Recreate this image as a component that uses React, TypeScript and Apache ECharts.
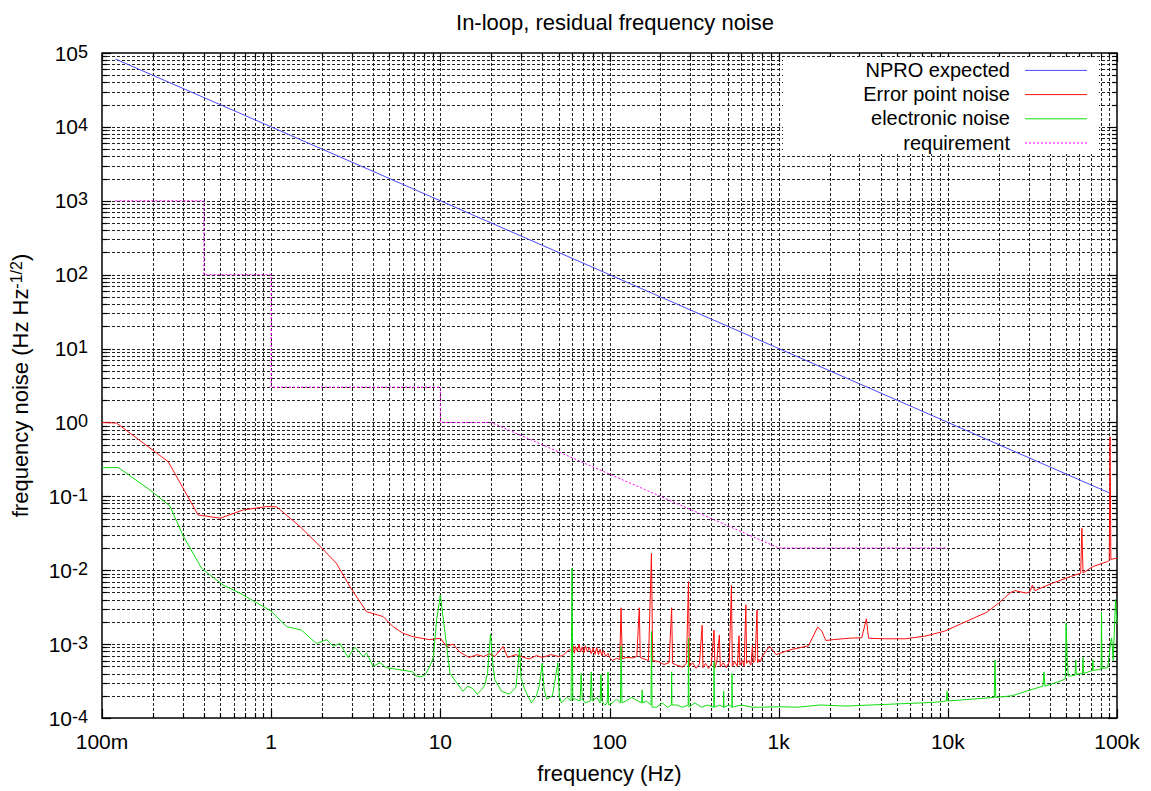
import React, { useEffect, useRef } from "react";
import * as echarts from "echarts";

// ---------- data ----------
const seriesNames = ["NPRO expected", "Error point noise", "electronic noise", "requirement"];
const seriesColors = ["#4a4aff", "#ff1010", "#10dd10", "#ff00ff"];

const xTickLabels = ["100m", "1", "10", "100", "1k", "10k", "100k"];

const nproFreq = [0.12, 1, 92000];
const nproVal = [83000, 10000, 0.109];

const reqFreq = [0.12, 0.4, 0.4, 1, 1, 10, 10, 20, 1000, 10000];
const reqVal = [1000, 1000, 100, 100, 3, 3, 1, 1, 0.02, 0.02];

const errFreq = [
  0.1, 0.122, 0.246, 0.37, 0.5, 0.684, 0.94, 1.08, 1.48, 1.99, 2.43, 2.92, 3.66, 4.59, 5.25, 6.02, 6.9, 8.6, 10,
  10.9, 11.9, 13, 14.8, 16.5, 18, 19.5, 21, 23.5, 25, 28, 30, 33.5, 37, 40, 45, 50, 53, 58,
  60, 61, 62, 63, 64.5, 66, 67.5, 69, 70.5, 72, 74, 76, 78, 80, 82, 84, 86, 88, 90, 92, 95, 98, 100,
  104, 110, 115, 117, 119, 125, 137, 145, 150, 152, 160, 170, 177, 180, 195, 210, 225, 233, 236, 250, 270,
  285, 293, 297, 310, 325, 340, 353, 357, 370, 385, 400, 415, 420, 430, 446, 452, 470, 490, 510, 526, 532,
  550, 570, 583, 590, 610, 625, 640, 646, 665, 685, 700, 708, 725, 745, 752, 765, 780,
  800, 883, 966, 1100, 1200, 1330, 1500, 1700, 1800, 1900, 2100, 2600, 3100, 3300, 3400, 4300, 5600, 7300,
  9600, 12500, 17000, 20000, 23500, 25000, 29000, 30500, 31600, 32700, 41000, 53000, 61000, 62000, 63000,
  72000, 88000, 90000, 91000, 92000, 100000,
];
const errVal = [
  1.0, 0.98, 0.295, 0.056, 0.0506, 0.0655, 0.0726, 0.072, 0.039, 0.02, 0.0124, 0.006, 0.00275, 0.00236, 0.00173, 0.0014, 0.00126, 0.00115, 0.0012,
  0.00093, 0.001, 0.00078, 0.00066, 0.00072, 0.00068, 0.00074, 0.00068, 0.00093, 0.00066, 0.00072, 0.00068, 0.00063, 0.0007, 0.00066, 0.00072, 0.00068, 0.0007, 0.00085,
  0.0008, 0.00095, 0.00075, 0.00093, 0.0008, 0.001, 0.00078, 0.00092, 0.00076, 0.00095, 0.00079, 0.00091, 0.00074, 0.00088, 0.00073, 0.0009, 0.00072, 0.00085, 0.0007, 0.00082, 0.00068, 0.00075, 0.00066,
  0.0006, 0.00064, 0.00062, 0.0031, 0.00063, 0.00066, 0.00065, 0.00068, 0.0031, 0.00066, 0.00063, 0.0006, 0.017, 0.0006, 0.00058, 0.00053, 0.00056, 0.0031, 0.00055, 0.00052, 0.00049,
  0.00055, 0.007, 0.0005, 0.00056, 0.00047, 0.00054, 0.0018, 0.00048, 0.00055, 0.00047, 0.00054, 0.00155, 0.00048, 0.00056, 0.00133, 0.00049, 0.00056, 0.00048, 0.00057, 0.0062, 0.0005,
  0.00058, 0.0005, 0.0013, 0.00052, 0.0006, 0.0005, 0.0034, 0.00055, 0.0006, 0.00052, 0.00095, 0.00056, 0.0006, 0.0029, 0.00056, 0.00062, 0.00058,
  0.00068, 0.00094, 0.00072, 0.0008, 0.00085, 0.00089, 0.00095, 0.0017, 0.0015, 0.00112, 0.00115, 0.0012, 0.00122, 0.0022, 0.0012, 0.00118, 0.00118, 0.00128,
  0.0015, 0.00197, 0.0027, 0.0036, 0.005, 0.0053, 0.0049, 0.0051, 0.0063, 0.0053, 0.0066, 0.0082, 0.0091, 0.037, 0.0092,
  0.0112, 0.0131, 0.0135, 0.64, 0.014, 0.0146,
];

const elecFreq = [
  0.1, 0.125, 0.192, 0.252, 0.3, 0.388, 0.52, 0.653, 1.0, 1.23, 1.51, 1.85, 2.13, 2.33, 2.55, 2.85, 3.12, 3.5, 3.66, 4.0, 4.4, 4.8,
  5.76, 6.9, 7.2, 7.6, 8.1, 8.6, 9.1, 9.5, 10, 10.9, 11.4, 12.5, 13.6, 14.5, 15.6, 16.5, 17.5, 18.3, 19, 19.8, 20.5, 21, 23,
  25.6, 27, 28, 29.4, 30, 31.4, 34.5, 37, 38.5, 40, 41, 42.5, 46, 49.5, 50.5, 52, 56, 59.3, 60, 60.7, 63, 67, 68, 69, 72,
  77, 78, 79, 84, 88, 89, 90, 94, 97, 98, 99, 104, 110, 116, 117, 118.5, 125, 135, 155, 156, 157, 165, 176, 177, 178.5,
  190, 205, 220, 232, 233, 234, 250, 270, 292, 293, 295, 320, 350, 380, 414, 415, 417, 450, 472, 473, 475, 510, 529, 530, 532,
  600, 700, 800, 1000, 1300, 1760, 2500, 3500, 5000, 7000, 9000, 9800, 9900, 10000, 14000, 18800, 19000, 19200, 24000, 29000,
  36500, 37000, 37500, 47000, 49500, 50000, 50800, 51500, 53000, 56500, 57000, 57500, 62500, 63000, 63500, 71500, 72000, 72500,
  77000, 80500, 81000, 81500, 88000, 92000, 93000, 95000, 98000, 100000,
];
const elecVal = [
  0.245, 0.245, 0.122, 0.074, 0.03, 0.0106, 0.0063, 0.0049, 0.0028, 0.00173, 0.00155, 0.00102, 0.00115, 0.00094, 0.00102, 0.00066, 0.00091, 0.00068, 0.00076, 0.0005, 0.00056, 0.00048,
  0.00045, 0.00042, 0.00037, 0.00036, 0.00038, 0.00048, 0.00066, 0.0021, 0.0046, 0.00094, 0.0004, 0.0003, 0.00023, 0.00027, 0.00025, 0.00021, 0.00024, 0.00028, 0.0004, 0.00137, 0.0005, 0.00033, 0.00023,
  0.00021, 0.00024, 0.00026, 0.00087, 0.00035, 0.00025, 0.00016, 0.0002, 0.00028, 0.00055, 0.00025, 0.00018, 0.0002, 0.00056, 0.0002, 0.00016, 0.00019, 0.00017, 0.0106, 0.00018, 0.00018, 0.00017, 0.0004, 0.00018, 0.00016,
  0.00017, 0.00042, 0.00017, 0.00019, 0.00016, 0.00039, 0.00017, 0.00015, 0.00016, 0.00042, 0.00015, 0.00016, 0.00018, 0.00016, 0.00093, 0.00016, 0.00017, 0.00019, 0.00016, 0.00024, 0.00016, 0.00017, 0.00015, 0.00148, 0.00014,
  0.00014, 0.00016, 0.00014, 0.00015, 0.00042, 0.00015, 0.00015, 0.00014, 0.00015, 0.0012, 0.00014, 0.00016, 0.00014, 0.00015, 0.00014, 0.00058, 0.00014, 0.00015, 0.00014, 0.00023, 0.00014, 0.00015, 0.00014, 0.0004, 0.00014,
  0.00015, 0.00014, 0.00014, 0.000142, 0.00014, 0.00015, 0.000145, 0.00015, 0.000155, 0.00016, 0.000165, 0.00017, 0.00023, 0.00017, 0.00018, 0.00019, 0.00061, 0.00019, 0.0002, 0.00023,
  0.00027, 0.00042, 0.00027, 0.00032, 0.00034, 0.0019, 0.0006, 0.00037, 0.00037, 0.00038, 0.00061, 0.00039, 0.0004, 0.00066, 0.0004, 0.00044, 0.00061, 0.00044,
  0.00045, 0.00046, 0.0027, 0.00047, 0.00048, 0.0011, 0.0012, 0.0006, 0.004, 0.0019,
];

// ---------- helpers ----------
const FONT = "'Liberation Sans', Arial, Helvetica, sans-serif";
const pairs = (xs: number[], ys: number[]) => xs.map((x, i) => [x, ys[i]]);

// axis grid/tick positions (1..9 x each decade)
const decadeMarks = (lo: number, hi: number) => {
  const out: number[] = [];
  for (let e = lo; e < hi; e++) for (let m = 1; m < 10; m++) out.push(m * Math.pow(10, e));
  out.push(Math.pow(10, hi));
  return out;
};
const xMarks = decadeMarks(-1, 5);
const yMarks = decadeMarks(-4, 5);
const isMajor = (v: number) => Math.abs(Math.log10(v) - Math.round(Math.log10(v))) < 1e-9;

const GRID_STROKE = "#222";
const GRID_DASH = [3, 2];

export default function App() {
  const ref = useRef<HTMLDivElement>(null);

  useEffect(() => {
    if (!ref.current) return;
    const chart = echarts.init(ref.current, null, { renderer: "svg" });

    const xGridSeries: any = {
      type: "custom",
      silent: true,
      z: 1,
      data: xMarks.map((v) => [v, 1]),
      encode: { x: 0, y: 1 },
      renderItem: (params: any, api: any) => {
        const v = api.value(0);
        const pt = api.coord([v, 1]);
        const cs = params.coordSys;
        const x = Math.round(pt[0]) + 0.5;
        const tl = isMajor(v) ? 9 : 5;
        const children: any[] = [];
        if (x > cs.x + 2 && x < cs.x + cs.width - 2) {
          children.push({
            type: "line",
            shape: { x1: x, y1: cs.y, x2: x, y2: cs.y + cs.height },
            style: { stroke: GRID_STROKE, lineWidth: 1, lineDash: GRID_DASH },
          });
        }
        children.push({
          type: "line",
          shape: { x1: x, y1: cs.y + cs.height, x2: x, y2: cs.y + cs.height - tl },
          style: { stroke: "#000", lineWidth: 1.2 },
        });
        children.push({
          type: "line",
          shape: { x1: x, y1: cs.y, x2: x, y2: cs.y + tl },
          style: { stroke: "#000", lineWidth: 1.2 },
        });
        return { type: "group", children };
      },
    };

    const yGridSeries: any = {
      type: "custom",
      silent: true,
      z: 1,
      data: yMarks.map((v) => [1, v]),
      encode: { x: 0, y: 1 },
      renderItem: (params: any, api: any) => {
        const v = api.value(1);
        const pt = api.coord([1, v]);
        const cs = params.coordSys;
        const y = Math.round(pt[1]) + 0.5;
        const tl = isMajor(v) ? 9 : 5;
        const children: any[] = [];
        if (y > cs.y + 2 && y < cs.y + cs.height - 2) {
          children.push({
            type: "line",
            shape: { x1: cs.x, y1: y, x2: cs.x + cs.width, y2: y },
            style: { stroke: GRID_STROKE, lineWidth: 1, lineDash: GRID_DASH },
          });
        }
        children.push({
          type: "line",
          shape: { x1: cs.x, y1: y, x2: cs.x + tl, y2: y },
          style: { stroke: "#000", lineWidth: 1.2 },
        });
        children.push({
          type: "line",
          shape: { x1: cs.x + cs.width, y1: y, x2: cs.x + cs.width - tl, y2: y },
          style: { stroke: "#000", lineWidth: 1.2 },
        });
        return { type: "group", children };
      },
    };

    const lineSeries = (name: string, color: string, data: number[][], dash?: number[]) => ({
      name,
      type: "line",
      z: 3,
      data,
      symbol: "none",
      showSymbol: false,
      silent: true,
      clip: true,
      lineStyle: { color, width: 1, type: dash || "solid" },
    });

    const legendDy = 24.2;
    const legendY0 = 106.2 - 1.5 * legendDy;
    const legendGraphics: any[] = [
      { type: "rect", z: 50, shape: { x: 783, y: 57, width: 316, height: 97 }, style: { fill: "#fff" } },
    ];
    seriesNames.forEach((name, i) => {
      const y = legendY0 + i * legendDy;
      legendGraphics.push({
        type: "text",
        z: 51,
        x: 1010,
        y,
        style: {
          text: name,
          fill: "#000",
          fontSize: 20,
          fontFamily: FONT,
          align: "right",
          verticalAlign: "middle",
        },
      });
      legendGraphics.push({
        type: "line",
        z: 51,
        shape: { x1: 1025, y1: y + 0.5, x2: 1087, y2: y + 0.5 },
        style: { stroke: seriesColors[i], lineWidth: 1, lineDash: i === 3 ? [2, 2] : null },
      });
    });

    const option: any = {
      animation: false,
      backgroundColor: "#fff",
      textStyle: { fontFamily: FONT },
      title: {
        text: "In-loop, residual frequency noise",
        left: 610,
        top: 6,
        textAlign: "center",
        textStyle: { fontSize: 22, fontWeight: "normal", color: "#000", fontFamily: FONT },
      },
      grid: {
        left: 102,
        right: 34,
        top: 53,
        bottom: 73,
        show: true,
        borderColor: "#000",
        borderWidth: 1.5,
        backgroundColor: "transparent",
      },
      xAxis: {
        type: "log",
        logBase: 10,
        min: 0.1,
        max: 1e5,
        name: "frequency (Hz)",
        nameLocation: "middle",
        nameGap: 44,
        nameTextStyle: { fontSize: 22, color: "#000", fontFamily: FONT },
        axisLine: { show: false },
        axisTick: { show: false },
        splitLine: { show: false },
        minorTick: { show: false },
        axisLabel: {
          color: "#000",
          fontSize: 21,
          fontFamily: FONT,
          margin: 13,
          showMinLabel: true,
          showMaxLabel: true,
          formatter: (v: number) => xTickLabels[Math.round(Math.log10(v)) + 1] ?? "",
        },
      },
      yAxis: {
        type: "log",
        logBase: 10,
        min: 1e-4,
        max: 1e5,
        name: "frequency noise (Hz Hz{s|-1/2})",
        nameLocation: "middle",
        nameRotate: 90,
        nameGap: 70,
        nameTextStyle: {
          fontSize: 22,
          color: "#000",
          fontFamily: FONT,
          rich: {
            s: { fontSize: 16, fontFamily: FONT, color: "#000", verticalAlign: "top", padding: [0, 0, 8, 0] },
          },
        },
        axisLine: { show: false },
        axisTick: { show: false },
        splitLine: { show: false },
        minorTick: { show: false },
        axisLabel: {
          color: "#000",
          margin: 14,
          showMinLabel: true,
          showMaxLabel: true,
          formatter: (v: number) => `{b|10}{s|${Math.round(Math.log10(v))}}`,
          rich: {
            b: { fontSize: 21, fontFamily: FONT, color: "#000", lineHeight: 21, verticalAlign: "bottom" },
            s: { fontSize: 18, fontFamily: FONT, color: "#000", lineHeight: 18, verticalAlign: "top", padding: [0, 0, 11, 0] },
          },
        },
      },
      series: [
        xGridSeries,
        yGridSeries,
        lineSeries(seriesNames[0], seriesColors[0], pairs(nproFreq, nproVal)),
        lineSeries(seriesNames[1], seriesColors[1], pairs(errFreq, errVal)),
        lineSeries(seriesNames[2], seriesColors[2], pairs(elecFreq, elecVal)),
        lineSeries(seriesNames[3], seriesColors[3], pairs(reqFreq, reqVal), [2, 2]),
      ],
      graphic: legendGraphics,
    };

    chart.setOption(option);
    return () => chart.dispose();
  }, []);

  return (
    <div
      ref={ref}
      style={{ position: "fixed", left: 0, top: 0, width: 1151, height: 791, background: "#fff" }}
    />
  );
}
